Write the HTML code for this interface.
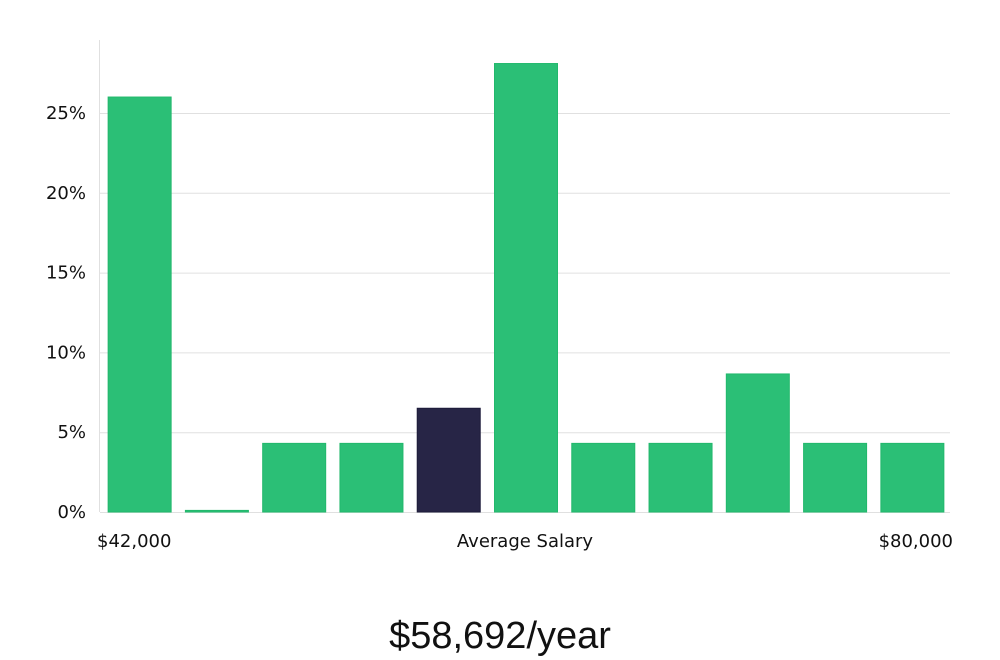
<!DOCTYPE html>
<html><head><meta charset="utf-8"><style>
html,body{margin:0;padding:0;background:#fff;width:1000px;height:660px;overflow:hidden}
svg text{font-family:"DejaVu Sans","Liberation Sans",sans-serif}
</style></head><body>
<svg id="chart" width="1000" height="660" xmlns="http://www.w3.org/2000/svg">
<line x1="99.5" y1="40" x2="99.5" y2="512" stroke="#e0e0e0"/>
<g id="grid"></g><g id="bars"></g>
<text x="97" y="547" font-size="18" fill="#111">$42,000</text>
<text x="525" y="547" font-size="18" fill="#111" text-anchor="middle">Average Salary</text>
<text x="953" y="547" font-size="18" fill="#111" text-anchor="end">$80,000</text>
<text x="500" y="648" font-size="38" fill="#111" text-anchor="middle" style="font-family:'Liberation Sans Narrow','Liberation Sans',sans-serif;font-weight:300">$58,692/year</text>
</svg>
<script>
const categories=["b1","b2","b3","b4","b5","b6","b7","b8","b9","b10","b11"];
const values=[26,0.1,4.3,4.3,6.5,28.1,4.3,4.3,8.65,4.3,4.3];
const highlight=[false,false,false,false,true,false,false,false,false,false,false];
const ticks=[0,5,10,15,20,25];
const tickLabels=["0%","5%","10%","15%","20%","25%"];
const NS="http://www.w3.org/2000/svg";
const y0=512,pxPer=(512-113)/25,xL=100,xR=950;
const y=v=>y0-v*pxPer;
const band=(xR-xL)/categories.length;
const g=document.getElementById('grid'),b=document.getElementById('bars');
ticks.forEach((t,i)=>{
 const l=document.createElementNS(NS,'line');
 
 
 l.setAttribute('x1',xL);l.setAttribute('x2',xR);l.setAttribute('y1',y(t)+0.5);l.setAttribute('y2',y(t)+0.5);
 l.setAttribute('stroke','#e0e0e0');g.appendChild(l);
 const tx=document.createElementNS(NS,'text');
 
 
 tx.setAttribute('x',86);tx.setAttribute('y',y(t)+6);tx.setAttribute('text-anchor','end');
 tx.setAttribute('font-size','18');tx.setAttribute('fill','#111');tx.textContent=tickLabels[i];g.appendChild(tx);
});
values.forEach((v,i)=>{
 const r=document.createElementNS(NS,'rect');
 
 
 const w=63,x=xL+band*i+(band-w)/2+1;
 r.setAttribute('x',x);r.setAttribute('width',w);
 r.setAttribute('y',y(v));r.setAttribute('height',Math.max(1,y0-y(v)));
 r.setAttribute('fill',highlight[i]?'#272546':'#2bbf76');
 r.setAttribute('stroke',highlight[i]?'#1d1b3a':'#22b86c');r.setAttribute('stroke-width','1');
 b.appendChild(r);
});
</script>
</body></html>
